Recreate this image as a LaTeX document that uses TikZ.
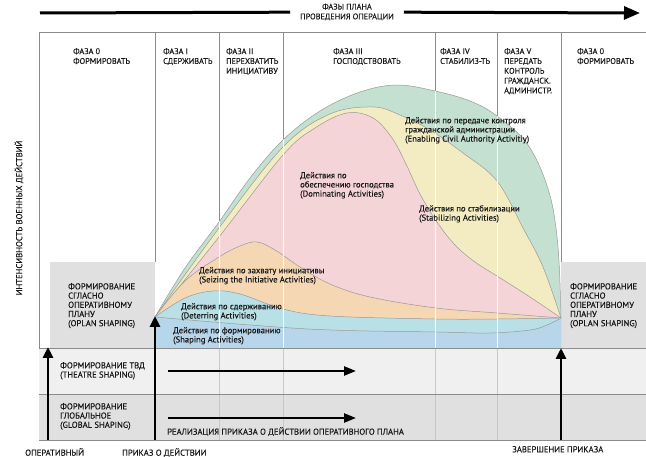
\documentclass[tikz,border=0pt]{standalone}
\usepackage{fontspec}
\setmainfont{PT Sans}[UprightFeatures={FakeBold=0.35}]
\usetikzlibrary{arrows.meta}

\definecolor{enablecol}{HTML}{C4E0D1}
\definecolor{stabcol}{HTML}{F3EBC1}
\definecolor{domcol}{HTML}{F5D4D8}
\definecolor{seizecol}{HTML}{F5D8B3}
\definecolor{detercol}{HTML}{B9E0E7}
\definecolor{shapecol}{HTML}{B7D6EA}

\newcommand{\layer}[2]{
  \fill[#1] plot[smooth,tension=0.6] coordinates {#2} -- (561,348) -- (155,348) -- cycle;
  \draw[black!40,line width=0.5pt] plot[smooth,tension=0.6] coordinates {#2};
}

\begin{document}
\begin{tikzpicture}[x=1pt,y=-1pt,
    txt/.style={font=\fontsize{8.2}{9.8}\selectfont,inner sep=0pt,align=left,anchor=north west,text=black!90},
    small/.style={txt,font=\fontsize{8.6}{9.2}\selectfont},
    colline/.style={draw=black!45,line width=0.8pt},
    bigarrow/.style={line width=2.8pt,-{Triangle[length=11pt,width=10pt]}},
    bandarrow/.style={line width=2.3pt,-{Triangle[length=12pt,width=9pt]}}]

	\useasboundingbox (0,0) rectangle (646,457);

	\fill[black!6] (39,348) rectangle (646,394);
	\fill[black!12] (39,394) rectangle (646,440);
	\fill[black!12] (50,262) rectangle (155,348);
	\fill[black!12] (561,262) rectangle (646,348);

	\draw[colline] (39,32) -- (646,32);
	\draw[colline] (39,32) -- (39,348);
	\foreach \x in {155,561} {
		\draw[colline] (\x,32) -- (\x,262);
	}
	\foreach \x in {219,283,435,497} {
		\draw[colline] (\x,32) -- (\x,348);
		\draw[black!22,line width=0.8pt] (\x,348) -- (\x,440);
	}

	\layer{enablecol}{(155,317) (185,268) (219,222) (250,178) (283,140) (320,111) (360,92) (397,85) (435,91) (470,101) (497,116) (528,145) (549,192) (558,247) (561,318)}
	\layer{stabcol}{(155,317) (219,228) (283,147) (330,114) (373,107) (400,115) (430,130) (463,153) (497,181) (523,228) (543,267) (561,318)}
	\layer{domcol}{(155,317) (219,237) (283,155) (315,128) (347,113) (373,118) (392,138) (406,164) (420,194) (437,222) (455,245) (475,262) (497,276) (530,297) (561,318)}
	\layer{seizecol}{(155,317) (185,281) (219,257) (240,246) (257,242) (275,250) (300,267) (330,284) (370,297) (436,308) (497,313) (561,318)}
	\layer{detercol}{(155,317) (185,298) (213,291) (240,294) (283,309) (330,316) (436,319) (497,319) (561,318)}
	\layer{shapecol}{(155,317) (250,325) (330,330) (436,332) (490,333) (530,330) (547,325) (561,318)}

	\begin{scope}
		\clip plot[smooth,tension=0.6] coordinates {(155,317) (185,268) (219,222) (250,178) (283,140) (320,111) (360,92) (397,85) (435,91) (470,101) (497,116) (528,145) (549,192) (558,247) (561,318)} -- (561,348) -- (155,348) -- cycle;
		\foreach \x in {219,283,435,497} {
			\draw[white,line width=0.9pt] (\x,32) -- (\x,348);
		}
	\end{scope}

	\foreach \y in {348,394,440} {
		\draw[colline] (39,\y) -- (646,\y);
	}

	\node[txt,align=center,anchor=center,inner xsep=10pt] (phases) at (347,12) {ФАЗЫ ПЛАНА\\ПРОВЕДЕНИЯ ОПЕРАЦИИ};
	\coordinate (phStart) at (40,13);
	\coordinate (phEnd) at (640,13);
	\draw[line width=3pt] (phStart) -- (phases);
	\draw[line width=3pt,-{Triangle[length=16pt,width=13pt]}] (phases) -- (phEnd);

	\node[txt] (phase0) at (73,48) {ФАЗА 0\\ФОРМИРОВАТЬ};
	\node[txt] (phaseI) at (163,48) {ФАЗА I\\СДЕРЖИВАТЬ};
	\node[txt] (phaseII) at (226,48) {ФАЗА II\\ПЕРЕХВАТИТЬ\\ИНИЦИАТИВУ};
	\node[txt] (phaseIII) at (333,48) {ФАЗА III\\ГОСПОДСТВОВАТЬ};
	\node[txt] (phaseIV) at (440,48) {ФАЗА IV\\СТАБИЛИЗ-ТЬ};
	\node[txt] (phaseV) at (504,48) {ФАЗА V\\ПЕРЕДАТЬ\\КОНТРОЛЬ\\ГРАЖДАНСК.\\АДМИНИСТР.};
	\node[txt] (phaseNull) at (577,48) {ФАЗА 0\\ФОРМИРОВАТЬ};

	\node[small] (enabling) at (405,117) {Действия по передаче контроля\\гражданской администрации\\(Enabling Civil Authority Activitiy)};
	\node[small] (dominating) at (300,172) {Действия по\\обеспечению господства\\(Dominating Activities)};
	\node[small] (stabilizing) at (419,205) {Действия по стабилизации\\(Stabilizing Activities)};
	\node[small] (seizing) at (199,267) {Действия по захвату инициативы\\(Seizing the Initiative Activities)};
	\node[small] (deterring) at (181,303) {Действия по сдерживанию\\(Deterring Activities)};
	\node[small] (shaping) at (173,327) {Действия по формированию\\(Shaping Activities)};

	\node[small] (oplanL) at (68,283) {ФОРМИРОВАНИЕ\\СГЛАСНО\\ОПЕРАТИВНОМУ\\ПЛАНУ\\(OPLAN SHAPING)};
	\node[small] (oplanR) at (570,283) {ФОРМИРОВАНИЕ\\СГЛАСНО\\ОПЕРАТИВНОМУ\\ПЛАНУ\\(OPLAN SHAPING)};
	\node[small] (theatre) at (60,362) {ФОРМИРОВАНИЕ ТВД\\(THEATRE SHAPING)};
	\node[small] (global) at (60,403) {ФОРМИРОВАНИЕ\\ГЛОБАЛЬНОЕ\\(GLOBAL SHAPING)};
	\node[small] (execute) at (167,427) {РЕАЛИЗАЦИЯ ПРИКАЗА О ДЕЙСТВИИ ОПЕРАТИВНОГО ПЛАНА};

	\node[small] (operative) at (25,448) {ОПЕРАТИВНЫЙ};
	\node[small] (order) at (122,448) {ПРИКАЗ О ДЕЙСТВИИ};
	\node[small] (finish) at (512,446) {ЗАВЕРШЕНИЕ ПРИКАЗА};
	\node[small,anchor=center,rotate=90] (intensity) at (19,218) {ИНТЕНСИВНОСТЬ ВОЕННЫХ ДЕЙСТВИЙ};

	\coordinate (thStart) at (168,371);
	\coordinate (thEnd) at (356,371);
	\coordinate (glStart) at (168,418);
	\coordinate (glEnd) at (356,418);
	\draw[bandarrow] (thStart) -- (thEnd);
	\draw[bandarrow] (glStart) -- (glEnd);

	\coordinate (opBase) at (48,440);
	\coordinate (opTip) at (48,347);
	\coordinate (ordBase) at (155,440);
	\coordinate (ordTip) at (155,316);
	\coordinate (finBase) at (561,440);
	\coordinate (finTip) at (561,348);
	\draw[bigarrow] (opBase) -- (opTip);
	\draw[bigarrow] (ordBase) -- (ordTip);
	\draw[bigarrow] (finBase) -- (finTip);
\end{tikzpicture}
\end{document}
